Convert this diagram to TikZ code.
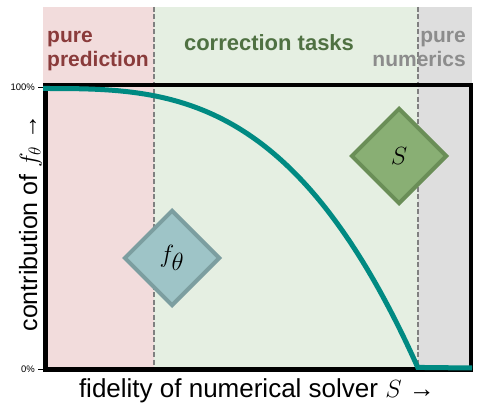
\documentclass[tikz,border=0pt]{standalone}
\usepackage{fontspec}
\setmainfont{Liberation Sans}
\usetikzlibrary{shapes.geometric}
\definecolor{rose}{HTML}{F2DCDC}
\definecolor{sage}{HTML}{E5EFE2}
\definecolor{ash}{HTML}{DEDEDE}
\definecolor{wine}{HTML}{8A3B3B}
\definecolor{moss}{HTML}{4F7142}
\definecolor{slate}{HTML}{8C8C8C}
\definecolor{dashgray}{HTML}{808080}
\definecolor{curveteal}{HTML}{008A82}
\definecolor{fthfill}{HTML}{9EC4C7}
\definecolor{fthline}{HTML}{7C9EA0}
\definecolor{sfill}{HTML}{89AF74}
\definecolor{sline}{HTML}{6A8E57}
\tikzset{sep/.style={draw=dashgray,line width=2pt,dash pattern=on 5pt off 2.5pt},tag/.style={font=\fontsize{21}{24}\selectfont\bfseries,inner sep=0pt},axlabel/.style={font=\fontsize{25}{29}\selectfont,inner sep=0pt},ticklab/.style={font=\fontsize{9.5}{11}\selectfont,inner sep=0pt},model/.style={diamond,minimum width=96pt,minimum height=96pt,inner sep=0pt,line width=4pt,font=\fontsize{36}{42}\selectfont}}

\begin{document}
\begin{tikzpicture}[x=1pt,y=-1pt]
\useasboundingbox (0,0) rectangle (479,414);
% regimes
\fill[rose] (43,7) rectangle (153.5,370);
\fill[sage] (153.5,7) rectangle (418,370);
\fill[ash] (418,7) rectangle (472,370);
\draw[sep] (153.5,7) -- (153.5,370);
\draw[sep] (418,7) -- (418,370);
\node[tag,text=wine,anchor=base west,align=left] (pred) at (47,66.5) {pure\\prediction};
\node[tag,text=moss,anchor=base,font=\fontsize{22}{24}\selectfont\bfseries] (corr) at (269,51) {correction tasks};
\node[tag,text=slate,anchor=base east,align=right] (num) at (466,66.5) {pure\\numerics};
% axes
\draw[line width=4.5pt] (45.5,85) rectangle (471,369.5);
\draw[line width=0.8pt] (38,87) -- (44,87);
\draw[line width=0.8pt] (38,369) -- (44,369);
\node[ticklab,anchor=east] (top) at (35,87) {100\%};
\node[ticklab,anchor=east] (bot) at (35,369) {0\%};
% contribution curve
\draw[curveteal,line width=5pt] plot[domain=0:1,samples=80,smooth] ({43+375*\x},{88.5+279.5*\x*\x*\x}) -- (472,368);
\node[model,fill=fthfill,draw=fthline] (ftheta) at (172,258) {$f_\theta$};
\node[model,fill=sfill,draw=sline] (solver) at (399,156) {$S$};
\node[axlabel,anchor=base,font=\fontsize{26}{30}\selectfont] (xlab) at (257,397) {fidelity of numerical solver $S$ →};
\node[axlabel,rotate=90,anchor=base] (ylab) at (37,223) {contribution of $f_\theta$ →};
\end{tikzpicture}
\end{document}
